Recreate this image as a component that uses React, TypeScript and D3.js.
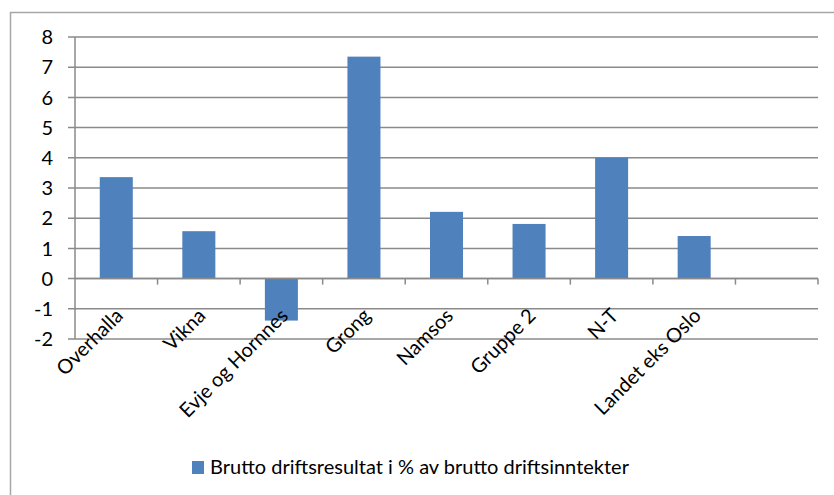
import React from 'react';
import * as d3 from 'd3';

const categories = ["Overhalla", "Vikna", "Evje og Hornnes", "Grong", "Namsos", "Gruppe 2", "N-T", "Landet eks Oslo", ""];
const values = [3.36, 1.57, -1.39, 7.35, 2.21, 1.81, 4.0, 1.41, null];
const yTicks = [-2, -1, 0, 1, 2, 3, 4, 5, 6, 7, 8];
const seriesName = "Brutto driftsresultat i % av brutto driftsinntekter";

const W = 834;
const H = 495;
const plot = { left: 75, right: 818, top: 37, bottom: 339 };
const font = "Lato, 'Open Sans', sans-serif";
const gridColor = "#8a8a8a";
const barColor = "#4f81bd";
const fs = 20;

const App = () => {
  const x = d3.scaleBand<string>()
    .domain(categories.map((c, i) => i + ":" + c))
    .range([plot.left, plot.right])
    .paddingInner(0)
    .paddingOuter(0);

  const y = d3.scaleLinear()
    .domain([-2, 8])
    .range([plot.bottom, plot.top]);

  const bw = x.bandwidth() / 2.5;
  const keys = x.domain();
  const y0 = y(0);

  return (
    <svg width={W} height={H} style={{ position: 'absolute', left: 0, top: 0, background: '#fff' }}>
      <rect x={10.5} y={12.5} width={840} height={500} fill="none" stroke="#a6a6a6" strokeWidth={1.5} />

      {yTicks.map(t => (
        <g key={t}>
          <line x1={plot.left - 7} x2={plot.right} y1={y(t)} y2={y(t)} stroke={gridColor} strokeWidth={1.5} />
          <text x={53} y={y(t)} dy="0.36em" textAnchor="end" fontFamily={font} fontSize={fs} fill="#000">{t}</text>
        </g>
      ))}

      <line x1={plot.left} x2={plot.left} y1={plot.top} y2={plot.bottom} stroke={gridColor} strokeWidth={1.5} />

      {keys.map((k, i) => values[i] == null ? null : (
        <rect key={k}
          x={(x(k) as number) + (x.bandwidth() - bw) / 2}
          y={Math.min(y(values[i] as number), y0)}
          width={bw}
          height={Math.abs(y(values[i] as number) - y0)}
          fill={barColor} />
      ))}

      <line x1={plot.left} x2={plot.right} y1={y0} y2={y0} stroke={gridColor} strokeWidth={1.5} />
      {keys.map((k) => (
        <line key={"t" + k} x1={(x(k) as number) + x.bandwidth()} x2={(x(k) as number) + x.bandwidth()}
          y1={y0} y2={y0 + 6} stroke={gridColor} strokeWidth={1.5} />
      ))}

      {keys.map((k, i) => {
        const cx = (x(k) as number) + x.bandwidth() / 2 + 8;
        return (
          <text key={"l" + k} transform={`translate(${cx},317) rotate(-45)`} textAnchor="end"
            fontFamily={font} fontSize={fs} fill="#000">{categories[i]}</text>
        );
      })}

      <rect x={192} y={461} width={12} height={13} fill={barColor} />
      <text x={210} y={474} fontFamily={font} fontSize={fs} fill="#000">{seriesName}</text>
    </svg>
  );
};

export default App;
